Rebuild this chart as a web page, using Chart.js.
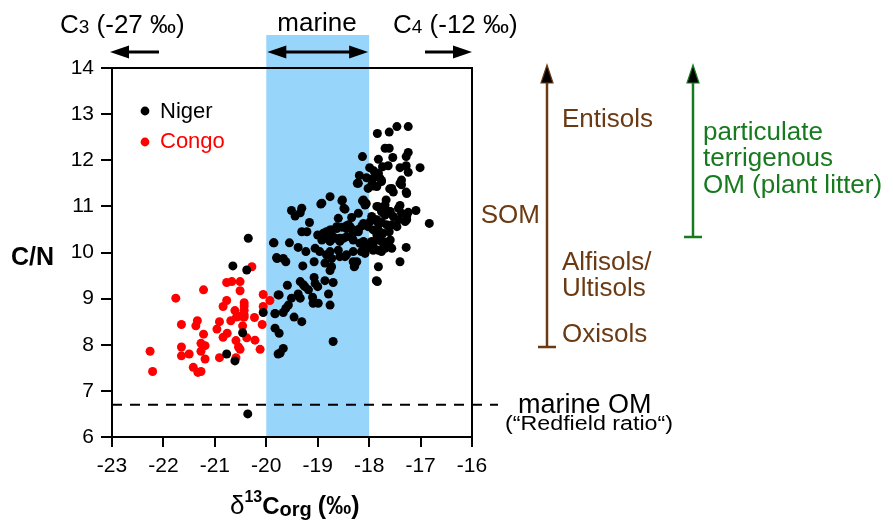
<!DOCTYPE html>
<html>
<head>
<meta charset="utf-8">
<script src="https://cdn.jsdelivr.net/npm/chart.js@4/dist/chart.umd.min.js"></script>
<style>
  html, body { margin: 0; padding: 0; background: #fff; }
  #wrap { width: 893px; height: 521px; }
</style>
</head>
<body>
<div id="wrap"><canvas id="c" width="893" height="521"></canvas></div>
<script>
// δ13Corg (‰) vs C/N
const xTicks = [-23, -22, -21, -20, -19, -18, -17, -16];
const yTicks = [6, 7, 8, 9, 10, 11, 12, 13, 14];
const marineBand = [-20, -18];
const redfieldCN = 6.7;

const nigerPoints = [
  [-20.35,10.31],[-20.65,9.71],[-20.38,9.62],[-20.06,8.70],[-20.46,8.26],[-20.77,7.80],[-20.61,7.65],
  [-19.86,10.21],[-19.80,9.89],[-19.77,9.08],[-19.83,8.68],[-19.83,8.36],[-19.77,7.80],[-20.36,6.50],
  [-18.76,11.21],[-18.94,11.05],[-18.53,11.12],[-18.47,10.94],[-18.11,11.10],[-18.06,11.05],[-19.51,10.91],
  [-19.31,10.96],[-19.44,10.79],[-19.34,10.86],[-19.16,10.65],[-18.60,10.74],[-19.31,10.45],[-19.21,10.45],
  [-19.00,10.38],[-18.83,10.45],[-18.73,10.49],[-18.63,10.52],[-18.53,10.55],[-18.44,10.58],[-18.37,10.56],
  [-18.21,10.50],[-18.14,10.58],[-17.98,10.67],[-17.89,10.71],[-17.82,10.63],[-19.85,10.21],[-19.55,10.21],
  [-19.38,10.11],[-19.23,10.02],[-18.92,10.27],[-18.86,10.34],[-18.76,10.24],[-18.66,10.31],[-18.57,10.24],
  [-18.50,10.31],[-19.05,10.09],[-18.96,10.02],[-18.83,9.95],[-18.73,9.87],[-18.57,9.91],[-18.44,9.95],
  [-18.31,10.27],[-18.18,10.20],[-18.05,10.09],[-17.92,10.13],[-17.82,10.05],[-19.79,9.87],[-19.67,9.87],
  [-19.62,9.80],[-19.29,9.71],[-19.07,9.80],[-18.86,9.77],[-18.73,9.69],[-18.76,9.61],[-18.31,9.80],
  [-18.28,9.71],[-17.82,9.69],[-17.86,9.39],[-19.07,9.46],[-19.05,9.33],[-19.00,9.26],[-18.86,9.39],
  [-18.70,9.35],[-19.34,9.37],[-19.25,9.26],[-19.18,9.19],[-19.28,9.30],[-19.59,9.29],[-19.75,9.08],
  [-19.51,9.01],[-19.57,8.86],[-19.62,8.79],[-19.38,9.10],[-19.34,9.01],[-19.10,9.03],[-19.09,8.90],
  [-18.99,8.90],[-18.79,9.10],[-18.76,8.86],[-19.83,8.67],[-19.67,8.70],[-19.46,8.60],[-19.31,8.50],
  [-19.75,8.25],[-18.70,8.07],[-19.67,7.92],[-19.73,7.82],
  [-17.46,12.73],[-17.24,12.73],[-17.84,12.58],[-17.61,12.61],[-17.69,12.26],[-17.61,12.26],[-17.24,12.17],
  [-17.28,12.08],[-18.13,12.08],[-17.82,12.02],[-17.54,12.06],[-17.74,11.86],[-17.63,11.88],[-17.40,11.84],
  [-17.28,11.88],[-17.01,11.84],[-17.24,11.74],[-17.99,11.84],[-17.91,11.77],[-17.82,11.72],[-18.19,11.67],
  [-18.05,11.62],[-17.92,11.61],[-17.79,11.61],[-17.76,11.56],[-18.23,11.50],[-17.95,11.47],[-17.85,11.43],
  [-18.02,11.39],[-17.37,11.57],[-17.37,11.47],[-17.60,11.38],[-17.53,11.31],[-17.28,11.31],[-18.11,11.14],
  [-18.06,11.07],[-17.67,11.14],[-17.40,11.02],[-17.09,10.91],[-17.85,11.00],[-17.76,10.89],[-17.69,10.81],
  [-17.60,10.89],[-17.53,10.78],[-17.24,10.87],[-17.27,10.78],[-17.30,10.67],[-16.83,10.63],[-17.43,10.71],
  [-17.46,10.56],[-17.56,10.60],[-17.82,10.49],[-17.85,10.38],[-17.73,10.42],[-17.61,10.45],[-17.95,10.24],
  [-17.85,10.27],[-17.76,10.24],[-17.66,10.21],[-17.93,10.13],[-17.73,10.09],[-17.63,10.14],[-17.76,10.02],
  [-17.28,10.11],[-17.40,9.80],[-17.84,9.37],[-18.13,10.20],[-18.05,10.13],[-18.15,10.02],[-18.08,9.98],
  [-18.29,9.69],[-18.52,11.14],[-18.21,10.45],[-18.31,10.42],[-18.44,10.52],
  [-18.21,11.50],[-17.91,11.44],[-17.76,11.54],[-17.56,11.39],[-17.40,11.50],[-17.27,11.28],[-18.92,11.07],
  [-18.49,10.96],[-18.13,11.12],[-18.08,11.03],[-17.82,10.99],[-17.69,11.03],[-17.72,10.85],[-17.59,10.89],
  [-17.43,10.96],[-17.37,10.85],[-17.27,10.71],[-18.34,10.76],[-18.21,10.85],[-17.95,10.78],[-17.85,10.71],
  [-17.76,10.65],[-17.66,10.60],[-18.11,10.63],[-18.02,10.56],[-17.92,10.49],[-18.89,10.42],[-18.76,10.49],
  [-18.63,10.56],[-18.40,10.60],[-18.31,10.49],[-18.83,10.31],[-18.70,10.34],[-18.57,10.31],[-18.44,10.34],
  [-18.11,10.24],[-17.98,10.20],[-18.11,10.05],[-17.92,10.05],[-17.72,10.24],[-17.59,10.27],[-17.69,10.09],
  [-17.56,10.09],[-18.76,10.02],[-18.60,10.05],[-18.47,9.91],[-18.31,10.02],[-18.24,9.80]
];

const congoPoints = [
  [-20.28,9.69],[-20.77,9.35],[-20.67,9.37],[-20.51,9.37],[-21.22,9.19],[-20.51,9.17],[-21.76,9.01],
  [-20.06,9.09],[-19.93,8.96],[-20.77,8.96],[-20.43,8.91],[-20.43,8.84],[-20.43,8.75],[-20.43,8.65],
  [-20.43,8.60],[-20.84,8.83],[-20.61,8.74],[-20.06,8.83],[-20.51,8.62],[-20.69,8.52],[-20.58,8.60],
  [-20.23,8.59],[-20.91,8.50],[-21.34,8.52],[-21.37,8.41],[-21.65,8.44],[-20.46,8.41],[-20.08,8.44],
  [-20.96,8.34],[-20.76,8.25],[-20.84,8.16],[-21.22,8.23],[-20.38,8.15],[-20.22,8.10],[-20.59,8.09],
  [-21.27,8.03],[-21.19,7.98],[-21.65,7.95],[-20.54,7.95],[-20.51,7.90],[-20.12,7.90],[-22.26,7.86],
  [-21.27,7.86],[-21.65,7.76],[-21.50,7.80],[-21.19,7.69],[-20.91,7.72],[-20.59,7.72],[-22.21,7.42],
  [-21.42,7.51],[-21.33,7.40],[-21.27,7.42]
];

const FONT = '"Liberation Sans", Arial, sans-serif';
const BROWN = "#6B3A13";
const GREEN = "#177A1E";
const BAND = "#98D5FA";

// ---------- drawing helpers ----------
function runs(ctx, x, y, parts, color) {
  ctx.fillStyle = color || "#000";
  ctx.textAlign = "left";
  ctx.textBaseline = "alphabetic";
  let cx = x;
  parts.forEach(p => {
    ctx.font = p.font;
    ctx.fillText(p.t, cx, y + (p.dy || 0));
    cx += ctx.measureText(p.t).width + (p.gap || 0);
  });
}

function text(ctx, s, x, y, font, color, align = "left", width = null) {
  ctx.save();
  ctx.font = font;
  ctx.fillStyle = color;
  ctx.textBaseline = "alphabetic";
  ctx.textAlign = align;
  if (width) {
    const w = ctx.measureText(s).width;
    ctx.translate(x, y);
    ctx.scale(width / w, 1);
    ctx.fillText(s, 0, 0);
  } else {
    ctx.fillText(s, x, y);
  }
  ctx.restore();
}

function hArrow(ctx, x1, x2, y, headL, headR) {
  ctx.strokeStyle = "#000";
  ctx.fillStyle = "#000";
  ctx.lineWidth = 2.8;
  const a = x1 + (headL ? 14 : 0), b = x2 - (headR ? 14 : 0);
  ctx.beginPath(); ctx.moveTo(a, y); ctx.lineTo(b, y); ctx.stroke();
  if (headL) {
    ctx.beginPath(); ctx.moveTo(x1, y); ctx.lineTo(x1 + 19, y - 6.5); ctx.lineTo(x1 + 19, y + 6.5); ctx.closePath(); ctx.fill();
  }
  if (headR) {
    ctx.beginPath(); ctx.moveTo(x2, y); ctx.lineTo(x2 - 19, y - 6.5); ctx.lineTo(x2 - 19, y + 6.5); ctx.closePath(); ctx.fill();
  }
}

function vArrow(ctx, x, yTip, yBase, color) {
  ctx.strokeStyle = color;
  ctx.lineWidth = 2.5;
  ctx.beginPath(); ctx.moveTo(x, yTip + 14); ctx.lineTo(x, yBase); ctx.stroke();
  ctx.beginPath(); ctx.moveTo(x - 9, yBase); ctx.lineTo(x + 9, yBase); ctx.stroke();
  ctx.fillStyle = "#000";
  ctx.beginPath(); ctx.moveTo(x, yTip); ctx.lineTo(x - 6, yTip + 18); ctx.lineTo(x + 6, yTip + 18); ctx.closePath(); ctx.fill();
  ctx.strokeStyle = color; ctx.lineWidth = 1.2;
  ctx.beginPath(); ctx.moveTo(x, yTip); ctx.lineTo(x - 6, yTip + 18); ctx.lineTo(x + 6, yTip + 18); ctx.closePath(); ctx.stroke();
}

// ---------- plugin: band, frame, annotations ----------
const decorations = {
  id: "decorations",
  beforeDraw(chart) {
    const { ctx, chartArea, scales } = chart;
    const x1 = scales.x.getPixelForValue(marineBand[0]);
    const x2 = scales.x.getPixelForValue(marineBand[1]);
    ctx.save();
    ctx.fillStyle = BAND;
    ctx.fillRect(x1, 35, x2 - x1, chartArea.bottom - 35);
    ctx.restore();
  },
  afterDraw(chart) {
    const { ctx, chartArea: ca, scales } = chart;
    ctx.save();

    // top + right frame
    ctx.strokeStyle = "#000";
    ctx.lineWidth = 2;
    ctx.beginPath();
    ctx.moveTo(ca.left - 1, ca.top);
    ctx.lineTo(ca.right, ca.top);
    ctx.lineTo(ca.right, ca.bottom);
    ctx.stroke();

    // Redfield ratio dashed line
    const yR = scales.y.getPixelForValue(redfieldCN);
    ctx.setLineDash([10, 8]);
    ctx.beginPath(); ctx.moveTo(ca.left, yR); ctx.lineTo(498, yR); ctx.stroke();
    ctx.setLineDash([]);

    // top labels and arrows
    const big = `26px ${FONT}`, sub = `19px ${FONT}`;
    runs(ctx, 60, 33, [{ t: "C", font: big }, { t: "3", font: sub }, { t: " (-27 ‰)", font: big }]);
    text(ctx, "marine", 317, 31, big, "#000", "center");
    runs(ctx, 393, 33, [{ t: "C", font: big }, { t: "4", font: sub }, { t: " (-12 ‰)", font: big }]);
    hArrow(ctx, 110, 159, 52, true, false);
    hArrow(ctx, scales.x.getPixelForValue(marineBand[0]) + 1, scales.x.getPixelForValue(marineBand[1]) - 1, 52, true, true);
    hArrow(ctx, 425, 472, 52, false, true);

    // legend
    ctx.fillStyle = "#000";
    ctx.beginPath(); ctx.arc(145, 111, 4.4, 0, Math.PI * 2); ctx.fill();
    text(ctx, "Niger", 160, 118, `22px ${FONT}`, "#000");
    ctx.fillStyle = "#f00";
    ctx.beginPath(); ctx.arc(145, 142, 4.4, 0, Math.PI * 2); ctx.fill();
    text(ctx, "Congo", 160, 148, `22px ${FONT}`, "#f00");

    // axis titles
    text(ctx, "C/N", 11, 265, `bold 25px ${FONT}`, "#000");
    runs(ctx, 230, 514, [
      { t: "δ", font: `26px ${FONT}` },
      { t: "13", font: `bold 16px ${FONT}`, dy: -12 },
      { t: "C", font: `bold 24px ${FONT}` },
      { t: "org", font: `bold 20px ${FONT}`, dy: 2, gap: 6 },
      { t: "(‰)", font: `bold 25px ${FONT}` }
    ]);

    // soil organic matter scale
    vArrow(ctx, 547, 65, 347, BROWN);
    text(ctx, "SOM", 540, 223, big, BROWN, "right");
    text(ctx, "Entisols", 562, 127, big, BROWN);
    text(ctx, "Alfisols/", 562, 270, big, BROWN);
    text(ctx, "Ultisols", 562, 296, big, BROWN);
    text(ctx, "Oxisols", 562, 342, big, BROWN);

    // plant litter scale
    vArrow(ctx, 693, 65, 237, GREEN);
    text(ctx, "particulate", 703, 140, big, GREEN);
    text(ctx, "terrigenous", 703, 166, big, GREEN);
    text(ctx, "OM (plant litter)", 703, 193, big, GREEN);

    // marine OM label
    text(ctx, "marine OM", 518, 413, `27px ${FONT}`, "#000");
    text(ctx, "(“Redfield ratio“)", 505, 430, `20px ${FONT}`, "#000", "left", 168);

    ctx.restore();
  }
};

const toXY = pts => pts.map(([x, y]) => ({ x, y }));

new Chart(document.getElementById("c"), {
  type: "scatter",
  data: {
    datasets: [
      { label: "Niger", data: toXY(nigerPoints), backgroundColor: "#000", pointRadius: 4.5, pointBorderWidth: 0, order: 0 },
      { label: "Congo", data: toXY(congoPoints), backgroundColor: "#f00", pointRadius: 4.5, pointBorderWidth: 0, order: 1 }
    ]
  },
  options: {
    responsive: false,
    animation: false,
    layout: { padding: { left: 0, right: 421, top: 68, bottom: 0 } },
    plugins: { legend: { display: false }, tooltip: { enabled: false } },
    scales: {
      x: {
        type: "linear", min: xTicks[0], max: xTicks[xTicks.length - 1],
        afterBuildTicks: s => { s.ticks = xTicks.map(v => ({ value: v })); },
        afterFit: s => { s.height = 84; },
        ticks: { color: "#000", font: { size: 21, family: FONT }, padding: 7, callback: v => String(v) },
        grid: { drawOnChartArea: false, tickLength: 10, color: "#000", lineWidth: 2 },
        border: { color: "#000", width: 2 }
      },
      y: {
        type: "linear", min: yTicks[0], max: yTicks[yTicks.length - 1],
        afterBuildTicks: s => { s.ticks = yTicks.map(v => ({ value: v })); },
        afterFit: s => { s.width = 112; },
        ticks: { color: "#000", font: { size: 21, family: FONT }, padding: 7, callback: v => String(v) },
        grid: { drawOnChartArea: false, tickLength: 11, color: "#000", lineWidth: 2 },
        border: { color: "#000", width: 2 }
      }
    }
  },
  plugins: [decorations]
});
</script>
</body>
</html>
